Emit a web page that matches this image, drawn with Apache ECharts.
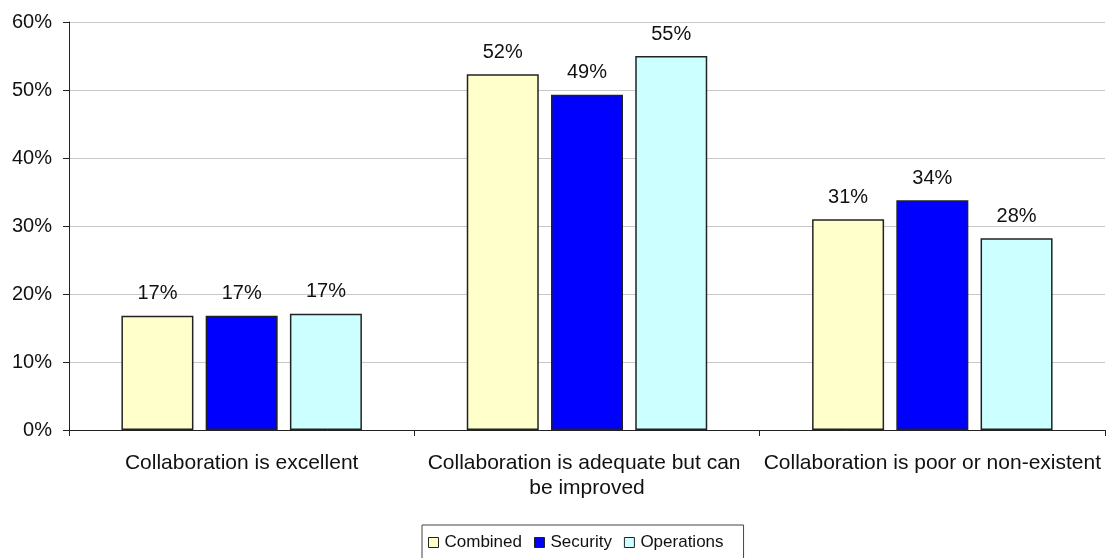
<!DOCTYPE html>
<html><head><meta charset="utf-8">
<script src="https://cdn.jsdelivr.net/npm/echarts@6/dist/echarts.min.js"></script>
<style>html,body{margin:0;padding:0;background:#fff}#c{width:1108px;height:558px}</style>
</head><body><div id="c"></div>
<script>
const categories = ["Collaboration is excellent", "Collaboration is adequate but can be improved", "Collaboration is poor or non-existent"];
const combined = [16.8, 52.3, 31.0];
const security = [16.8, 49.3, 33.8];
const operations = [17.1, 55.0, 28.2];
const seriesNames = ["Combined", "Security", "Operations"];
const colors = ["#FFFFCC", "#0000FF", "#CCFFFF"];
const font = "Arial, 'Liberation Sans', sans-serif";
const chart = echarts.init(document.getElementById('c'));
function mk(name, data, color) {
  return {
    name, type: 'bar', data, barWidth: 72, barGap: '17%',
    itemStyle: { color, borderColor: '#222', borderWidth: 1.5 },
    label: { show: true, position: 'top', distance: 12, color: '#111', fontFamily: font, fontSize: 20,
      formatter: p => Math.round(p.value) + '%' }
  };
}
chart.setOption({
  animation: false,
  grid: { left: 69, right: 3, top: 22, bottom: 128 },
  legend: {
    top: 525, left: 422, itemWidth: 10, itemHeight: 10, itemGap: 12,
    borderColor: '#444', borderWidth: 1, padding: [9, 20, 14, 6],
    textStyle: { fontFamily: font, fontSize: 17, color: '#111', padding: [0, 0, 0, 1] },
    data: seriesNames.map(n => ({ name: n, icon: 'rect', itemStyle: { borderColor: '#222', borderWidth: 1 } }))
  },
  xAxis: {
    type: 'category', data: categories, boundaryGap: true,
    axisLine: { lineStyle: { color: '#222', width: 1 } },
    axisTick: { show: true, length: 6, lineStyle: { color: '#222' } },
    axisLabel: { interval: 0, width: 340, overflow: 'break', margin: 21, lineHeight: 25,
      fontFamily: font, fontSize: 21, color: '#111' }
  },
  yAxis: {
    type: 'value', min: 0, max: 60, interval: 10,
    axisLine: { show: true, lineStyle: { color: '#222', width: 1 } },
    axisTick: { show: true, length: 6, lineStyle: { color: '#222' } },
    splitLine: { lineStyle: { color: '#c8c8c8' } },
    axisLabel: { formatter: '{value}%', margin: 17, fontFamily: font, fontSize: 20, color: '#111' }
  },
  series: [mk(seriesNames[0], combined, colors[0]), mk(seriesNames[1], security, colors[1]), mk(seriesNames[2], operations, colors[2])]
});
</script></body></html>
